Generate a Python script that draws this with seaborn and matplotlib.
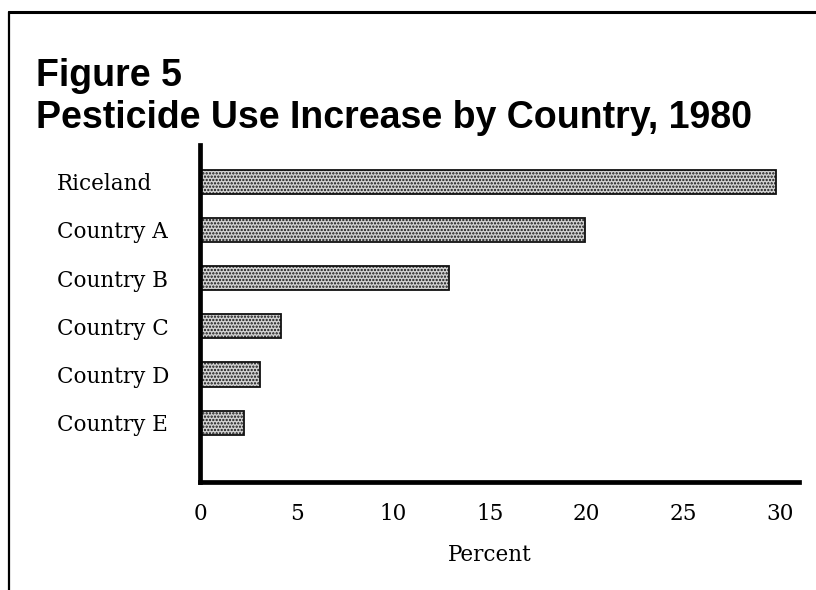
import matplotlib
matplotlib.use("Agg")
import matplotlib.pyplot as plt
from matplotlib.lines import Line2D
import seaborn as sns
import pandas as pd

# Data
countries = ["Riceland", "Country A", "Country B", "Country C", "Country D", "Country E"]
increase_pct = [29.8, 19.9, 12.9, 4.2, 3.1, 2.3]
x_ticks = [0, 5, 10, 15, 20, 25, 30]

df = pd.DataFrame({"country": countries, "increase": increase_pct})

sns.set_theme(style="white")
plt.rcParams["hatch.linewidth"] = 1.1
serif = ["DejaVu Serif"]
sans_bold = ["Liberation Sans", "DejaVu Sans"]

fig = plt.figure(figsize=(8.16, 5.90), dpi=100)
fig.patch.set_facecolor("white")
ax = fig.add_axes([200 / 816, 1 - 482 / 590, 599 / 816, 337 / 590])

sns.barplot(data=df, x="increase", y="country", orient="h", ax=ax,
            color="#d2d2d2", edgecolor="#111111", linewidth=1.3,
            width=0.5, saturation=1)
for bar in ax.patches:
    bar.set_hatch(".....")

ax.set_xlim(0, 31)
ax.set_ylim(6.23, -0.76)

for side in ("top", "right"):
    ax.spines[side].set_visible(False)
for side in ("left", "bottom"):
    ax.spines[side].set_linewidth(3.4)
    ax.spines[side].set_color("black")
    ax.spines[side].set_capstyle("projecting")

ax.set_xticks(x_ticks)
ax.set_xticklabels([str(t) for t in x_ticks], family=serif, fontsize=15.5)
ax.tick_params(axis="x", direction="inout", length=12, width=1.1,
               color="black", pad=9, labelcolor="black")
ax.tick_params(axis="y", length=0, pad=103)
for lab in ax.get_yticklabels():
    lab.set_horizontalalignment("left")
    lab.set_family(serif)
    lab.set_fontsize(15.5)
    lab.set_color("black")

ax.set_ylabel("")
ax.set_xlabel("Percent", family=serif, fontsize=15.5, color="black")
ax.xaxis.set_label_coords(15 / 31, -0.183)
ax.xaxis.label.set_verticalalignment("top")
ax.grid(False)

# Titles
fig.text(36 / 816, 1 - 86 / 590, "Figure 5", family=sans_bold, weight="bold",
         fontsize=27, color="black", va="baseline", ha="left")
fig.text(36 / 816, 1 - 128 / 590, "Pesticide Use Increase by Country, 1980",
         family=sans_bold, weight="bold", fontsize=27, color="black",
         va="baseline", ha="left")

# Page frame: top and left rules
fig.add_artist(Line2D([9 / 816, 1.0], [1 - 12 / 590, 1 - 12 / 590],
                      transform=fig.transFigure, color="black", lw=2.2))
fig.add_artist(Line2D([9 / 816, 9 / 816], [0.0, 1 - 12 / 590],
                      transform=fig.transFigure, color="black", lw=1.6))

fig.savefig("out.png", dpi=100, facecolor="white")
